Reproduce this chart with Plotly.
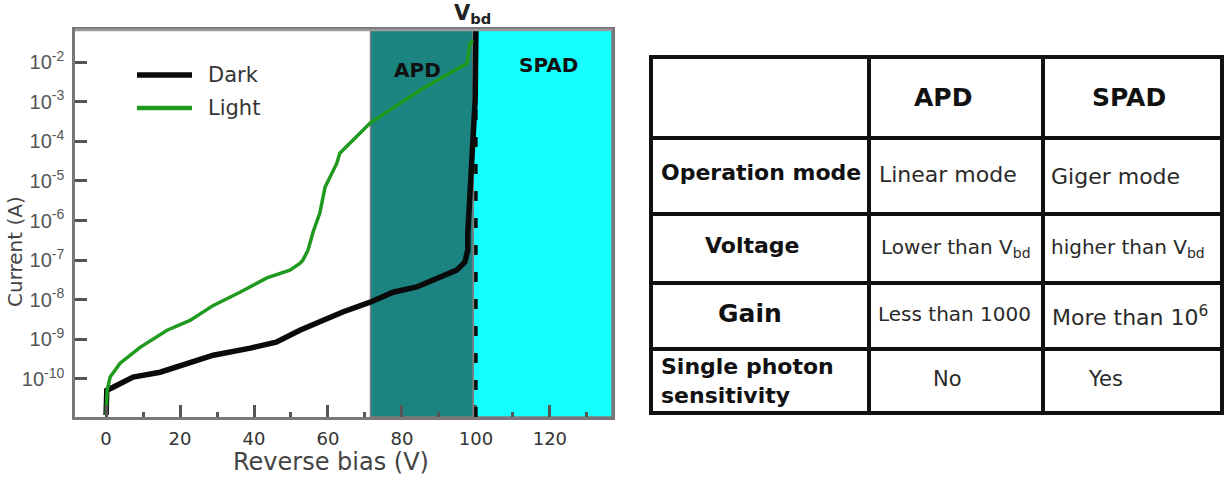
import plotly.graph_objects as go

# ---------------- data ----------------
dark_v = [0, 0.2, 1.9, 7.3, 14.6, 20.5, 29, 39, 46, 52.4, 60, 64, 71.4, 77.6, 84,
          90.3, 94.8, 97, 97.8, 97.8, 99, 99.8, 100, 100]
dark_i = [1.23e-11, 5.2e-11, 6.2e-11, 1.12e-10, 1.48e-10, 2.24e-10, 3.98e-10, 6.0e-10,
          8.5e-10, 1.7e-9, 3.47e-9, 4.9e-9, 8.7e-9, 1.55e-8, 2.1e-8, 3.55e-8, 5.6e-8,
          8.9e-8, 1.78e-7, 4.8e-7, 3.4e-5, 1.1e-3, 5.75e-2, 1e-1]

light_v = [0, 0.3, 1.1, 3.8, 9.2, 16.5, 22.7, 29, 36.2, 43.5, 49.7, 52.4, 53.2, 54.6,
           56, 57.8, 59.2, 60.5, 62.4, 63.2, 68.6, 71.4, 79.5, 84.9, 91.1, 97.6, 98.4, 99.2]
light_i = [1.23e-11, 5.2e-11, 1.12e-10, 2.5e-10, 6.3e-10, 1.7e-9, 3.0e-9, 7.2e-9, 1.55e-8,
           3.55e-8, 5.6e-8, 8.3e-8, 1.0e-7, 1.78e-7, 5.2e-7, 1.55e-6, 6.9e-6, 1.26e-5,
           2.8e-5, 5.0e-5, 1.62e-4, 2.9e-4, 9.1e-4, 1.95e-3, 4.2e-3, 9.3e-3, 3.0e-2, 3.6e-2]

x_ticks = [0, 20, 40, 60, 80, 100, 120]
y_exponents = [-2, -3, -4, -5, -6, -7, -8, -9, -10]
y_tickvals = [10.0 ** e for e in y_exponents]
y_ticktext = ["10<sup>%d</sup>" % e for e in y_exponents]

region_names = ["APD", "SPAD"]
region_start = [71.5, 99.3]
region_end = [99.3, 136.8]
v_bd = 100

table_header = ["", "APD", "SPAD"]
table_rows = [
    ["Operation mode", "Linear mode", "Giger mode"],
    ["Voltage", "Lower than V<sub>bd</sub>", "higher than V<sub>bd</sub>"],
    ["Gain", "Less than 1000", "More than 10<sup>6</sup>"],
    ["Single photon<br>sensitivity", "No", "Yes"],
]

# ---------------- layout helpers ----------------
W, H = 1228, 478
def px(x):
    return x / W
def py(y):
    return 1 - y / H

fig = go.Figure()
fig.add_trace(go.Scatter(x=dark_v, y=dark_i, mode="lines", name="Dark",
                         line=dict(color="#0a0a0a", width=5.5), showlegend=False))
fig.add_trace(go.Scatter(x=light_v, y=light_i, mode="lines", name="Light",
                         line=dict(color="#1f9a1f", width=3.5), showlegend=False))

shapes = []
region_fill = ["#1b8380", "#14ffff"]
for k in range(len(region_names)):
    shapes.append(dict(type="rect", xref="x", yref="y domain", x0=region_start[k],
                       x1=region_end[k], y0=0, y1=1, fillcolor=region_fill[k],
                       line=dict(color="#808080", width=1.5), layer="below"))
shapes.append(dict(type="line", xref="x", yref="y domain", x0=v_bd, x1=v_bd, y0=0, y1=1,
                   line=dict(color="#0a0a0a", width=3.5, dash="10px,17px"), layer="above"))
# lighter top border of the plot box
shapes.append(dict(type="line", xref="x domain", yref="y domain", x0=0, x1=1, y0=1, y1=1,
                   line=dict(color="#9a9a9a", width=2.5), layer="above"))

# manual legend
legend_items = [("Dark", "#0a0a0a", 5.5, 75), ("Light", "#1f9a1f", 4.5, 108)]
annotations = []
for name, col, w, yy in legend_items:
    shapes.append(dict(type="line", xref="paper", yref="paper", x0=px(137), x1=px(192),
                       y0=py(yy), y1=py(yy), line=dict(color=col, width=w)))
    annotations.append(dict(text=name, xref="paper", yref="paper", x=px(206), y=py(yy),
                            xanchor="left", yanchor="middle", showarrow=False,
                            font=dict(family="DejaVu Sans", size=21, color="#333333")))

def label(text, x, y, size, color, xref="paper", yref="paper", angle=0):
    return dict(text=text, x=x, y=y, xref=xref, yref=yref, xanchor="center",
                yanchor="middle", showarrow=False, textangle=angle,
                font=dict(family="DejaVu Sans", size=size, color=color))

# region labels
annotations.append(label("<b>APD</b>", 84.3, -2.2, 20, "#111111", "x", "y"))
annotations.append(label("<b>SPAD</b>", 119.5, -2.08, 20, "#111111", "x", "y"))
annotations.append(label("<b>V<sub>bd</sub></b>", px(472), py(14), 21, "#222222"))
# axis titles
annotations.append(label("Reverse bias (V)", px(331), py(462), 24, "#444444"))
annotations.append(label("Current (A)", px(15), py(252), 20, "#444444", angle=-90))

# ---------------- table ----------------
col_edges = [651, 869, 1043, 1222]
row_edges = [57, 138, 214, 283, 349, 413]
for xe in col_edges:
    shapes.append(dict(type="line", xref="paper", yref="paper", x0=px(xe), x1=px(xe),
                       y0=py(row_edges[0] - 2), y1=py(row_edges[-1] + 2),
                       line=dict(color="#111111", width=4)))
for ye in row_edges:
    shapes.append(dict(type="line", xref="paper", yref="paper", x0=px(col_edges[0] - 2),
                       x1=px(col_edges[-1] + 2), y0=py(ye), y1=py(ye),
                       line=dict(color="#111111", width=4)))

# cell text placement: (x, y, anchor, size)
header_pos = [None, (943, 97, "center", 25), (1129, 97, "center", 25)]
cell_pos = [
    [(659, 173, "left", 22), (877, 174, "left", 22), (1049, 176, "left", 22)],
    [(752, 246, "center", 22), (879, 248, "left", 20), (1049, 248, "left", 20)],
    [(750, 313, "center", 25), (876, 314, "left", 20), (1050, 316, "left", 22)],
    [(659, 381, "left", 22), (947, 379, "center", 21), (1105, 379, "center", 21)],
]
for j, txt in enumerate(table_header):
    if header_pos[j] is None:
        continue
    x, y, anc, sz = header_pos[j]
    annotations.append(dict(text="<b>%s</b>" % txt, x=px(x), y=py(y), xref="paper", yref="paper",
                            xanchor=anc, yanchor="middle", showarrow=False,
                            font=dict(family="DejaVu Sans", size=sz, color="#111111")))
for i, row in enumerate(table_rows):
    for j, txt in enumerate(row):
        x, y, anc, sz = cell_pos[i][j]
        bold = (j == 0)
        annotations.append(dict(text=("<b>%s</b>" % txt) if bold else txt, x=px(x), y=py(y),
                                xref="paper", yref="paper", xanchor=anc, yanchor="middle",
                                align="left", showarrow=False,
                                font=dict(family="DejaVu Sans", size=sz,
                                          color="#111111" if bold else "#2a2a2a")))

fig.update_layout(
    width=W, height=H, margin=dict(l=0, r=0, t=0, b=0),
    paper_bgcolor="white", plot_bgcolor="white",
    shapes=shapes, annotations=annotations, showlegend=False,
    xaxis=dict(domain=[px(75), px(612)], range=[-8.4, 136.8], tickvals=x_ticks,
               ticks="inside", ticklen=12, tickwidth=2.5, tickcolor="#555555",
               minor=dict(dtick=10, tick0=0, ticks="inside", ticklen=5, tickwidth=2.5,
                          tickcolor="#555555"),
               showline=True, linecolor="#7a767a", linewidth=2.5, mirror=True,
               showgrid=False, zeroline=False, automargin=False, ticklabelstandoff=4,
               tickfont=dict(family="DejaVu Sans", size=18, color="#333333")),
    yaxis=dict(domain=[py(417), py(30)], type="log", range=[-10.96, -1.19],
               tickvals=y_tickvals, ticktext=y_ticktext,
               ticks="inside", ticklen=12, tickwidth=2.5, tickcolor="#555555",
               showline=True, linecolor="#7a767a", linewidth=2.5, mirror=True,
               showgrid=False, zeroline=False, automargin=False, ticklabelstandoff=4,
               tickfont=dict(family="Liberation Sans Narrow, Liberation Sans", size=20,
                             color="#555555")),
)

fig.write_html("out.html")
